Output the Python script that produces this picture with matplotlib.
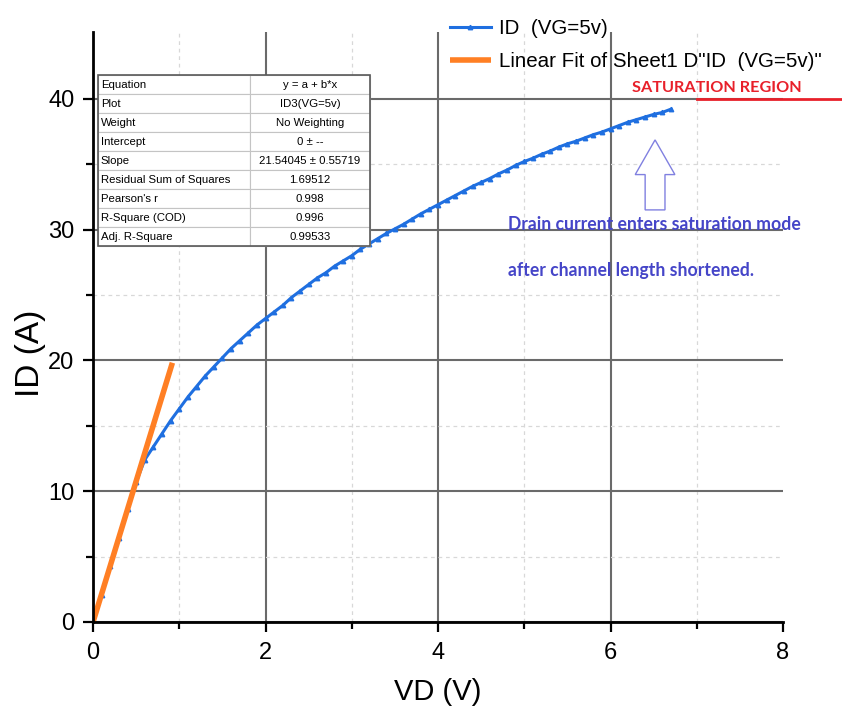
import numpy as np
import matplotlib
matplotlib.use("Agg")
import matplotlib.pyplot as plt
from matplotlib.patches import FancyArrow

plt.rcParams['font.family'] = ['Liberation Sans', 'DejaVu Sans']

# ID-VD sweep at VG = 5 V
vd = [0.0, 0.1, 0.2, 0.3, 0.4, 0.5, 0.6, 0.7, 0.8, 0.9,
      1.0, 1.1, 1.2, 1.3, 1.4, 1.5, 1.6, 1.7, 1.8, 1.9,
      2.0, 2.1, 2.2, 2.3, 2.4, 2.5, 2.6, 2.7, 2.8, 2.9,
      3.0, 3.1, 3.2, 3.3, 3.4, 3.5, 3.6, 3.7, 3.8, 3.9,
      4.0, 4.1, 4.2, 4.3, 4.4, 4.5, 4.6, 4.7, 4.8, 4.9,
      5.0, 5.1, 5.2, 5.3, 5.4, 5.5, 5.6, 5.7, 5.8, 5.9,
      6.0, 6.1, 6.2, 6.3, 6.4, 6.5, 6.6, 6.7]
id_a = [0.0, 2.1, 4.3, 6.4, 8.6, 10.7, 12.4, 13.4, 14.4, 15.4,
        16.3, 17.2, 18.0, 18.8, 19.5, 20.2, 20.9, 21.5, 22.1, 22.7,
        23.2, 23.7, 24.2, 24.8, 25.3, 25.8, 26.3, 26.7, 27.2, 27.6,
        28.0, 28.5, 28.9, 29.3, 29.7, 30.05, 30.4, 30.8, 31.2, 31.55,
        31.9, 32.25, 32.6, 32.95, 33.3, 33.6, 33.9, 34.25, 34.55, 34.9,
        35.2, 35.45, 35.75, 36.0, 36.3, 36.55, 36.75, 37.0, 37.25, 37.45,
        37.7, 37.95, 38.2, 38.4, 38.6, 38.8, 38.95, 39.2]

# linear fit over the ohmic region
fit_intercept = 0.0
fit_slope = 21.54045
fit_vd = [0.0, 0.92]

table_rows = [
    ["Equation", "y = a + b*x"],
    ["Plot", "ID3(VG=5v)"],
    ["Weight", "No Weighting"],
    ["Intercept", "0 \u00b1 --"],
    ["Slope", "21.54045 \u00b1 0.55719"],
    ["Residual Sum of Squares", "1.69512"],
    ["Pearson's r", "0.998"],
    ["R-Square (COD)", "0.996"],
    ["Adj. R-Square", "0.99533"],
]

BLUE = '#1f6fe0'
ORANGE = '#ff7f24'
NOTE = ['Lato', 'DejaVu Sans']

fig = plt.figure(figsize=(8.42, 7.17), dpi=100)
ax = fig.add_axes([0.1105, 0.1325, 0.8195, 0.8229])

ax.plot(vd, id_a, color=BLUE, lw=2.2, marker='^', ms=3.2, zorder=4,
        label='ID  (VG=5v)')
fit_x = np.array(fit_vd)
ax.plot(fit_x, fit_intercept + fit_slope * fit_x, color=ORANGE, lw=4,
        zorder=5, solid_capstyle='butt',
        label='Linear Fit of Sheet1 D"ID  (VG=5v)"')

ax.set_xlim(0, 8)
ax.set_ylim(0, 45.1)
ax.set_xticks([0, 2, 4, 6, 8])
ax.set_xticks([1, 3, 5, 7], minor=True)
ax.set_yticks([0, 10, 20, 30, 40])
ax.set_yticks([5, 15, 25, 35], minor=True)

ax.grid(which='major', color='#6a6a6a', lw=1.5, zorder=1)
ax.grid(which='minor', color='#d8d8d8', lw=0.9, ls=(0, (3, 3)), zorder=1)
# no grid line along the right end of the x range
ax.xaxis.get_gridlines()[-1].set_visible(False)

for s in ['top', 'right']:
    ax.spines[s].set_visible(False)
for s in ['left', 'bottom']:
    ax.spines[s].set_linewidth(2)
    ax.spines[s].set_zorder(6)
ax.tick_params(which='major', direction='out', length=7.5, width=1.6,
               labelsize=17)
ax.tick_params(axis='x', which='major', pad=7)
ax.tick_params(axis='y', which='major', pad=6)
ax.tick_params(which='minor', direction='out', length=5, width=1.6)

ax.set_xlabel('VD (V)', fontsize=21, labelpad=10)
ax.set_ylabel('ID (A)', fontsize=24)
ax.yaxis.set_label_coords(-0.068, 0.455)

# fit parameter table
tbl = ax.table(cellText=table_rows, colWidths=[0.56, 0.44],
               bbox=[0.007, 0.637, 0.394, 0.29], zorder=6)
tbl.auto_set_font_size(False)
tbl.set_fontsize(8.2)
for (r, c), cell in tbl.get_celld().items():
    cell.set_edgecolor('#c4c4c4')
    cell.set_linewidth(0.8)
    cell.set_facecolor('white')
    cell.get_text().set_ha('left' if c == 0 else 'center')
    if c == 0:
        cell.PAD = 0.02
border = plt.Rectangle((0.007, 0.637), 0.394, 0.29, transform=ax.transAxes,
                       fill=False, ec='#5a5a5a', lw=1.2, zorder=7)
ax.add_patch(border)

ax.legend(loc='upper left', bbox_to_anchor=(0.522, 0.988),
          bbox_transform=fig.transFigure, frameon=False, fontsize=14.8,
          handlelength=2.0, handletextpad=0.4, labelspacing=0.68,
          borderpad=0)

# saturation annotations
ax.text(6.25, 40.25, 'SATURATION REGION', color='#e8202a', fontsize=11.7,
        fontweight='bold', family=NOTE, va='bottom', zorder=6)
ax.plot([7.0, 8.7], [40, 40], color='#e8202a', lw=2, clip_on=False, zorder=5)
ax.add_patch(FancyArrow(6.516, 31.5, 0, 2.7, width=0.23, head_width=0.46,
                        head_length=2.65, length_includes_head=False,
                        fc='white', ec='#8080e0', lw=1, zorder=5))
ax.text(4.81, 30.4, 'Drain current enters saturation mode', color='#4545c8',
        fontsize=12.7, fontweight='bold', family=NOTE, va='center')
ax.text(4.81, 26.9, 'after channel length shortened.', color='#4545c8',
        fontsize=12.7, fontweight='bold', family=NOTE, va='center')

fig.savefig('out.png', dpi=100)
